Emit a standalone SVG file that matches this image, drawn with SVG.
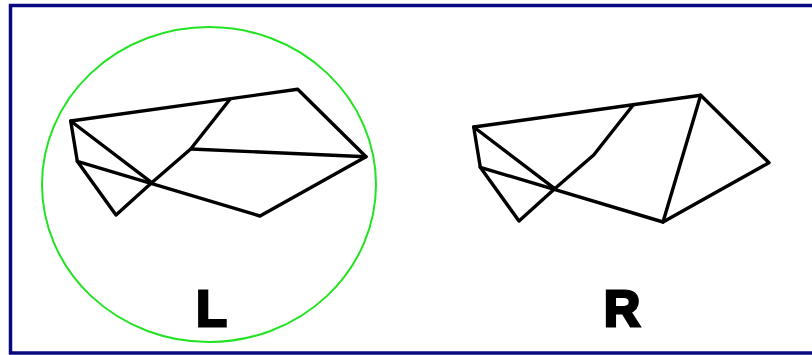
<svg xmlns="http://www.w3.org/2000/svg" width="812" height="355" viewBox="0 0 812 355">
<style>
.frame{fill:none;stroke:#0a0a80;stroke-width:3.5}
.ring{fill:none;stroke:#22e322;stroke-width:2}
.edge{fill:none;stroke:#000;stroke-width:3.4;stroke-linejoin:round;stroke-linecap:round}
.lbl{font-family:"Liberation Sans",Arial,sans-serif;font-weight:900;font-size:50px;fill:#000;stroke:#000;stroke-width:3;stroke-linejoin:miter;text-anchor:middle}
</style>
<rect width="812" height="355" fill="#fff"/>
<rect class="frame" x="10.5" y="5.5" width="820" height="347.5"/>
<g id="left-figure">
<ellipse class="ring" cx="209" cy="184.5" rx="167" ry="157.5"/>
<g id="left-edges">
<path class="edge" d="M70.7,121 L297.7,89.3 L366,156.7 L260,216 L77.3,161.3 Z"/>
<path class="edge" d="M77.3,161.3 L116,215 L151.7,182.7 L190.7,149 L230,99.3"/>
<path class="edge" d="M70.7,121 L151.7,182.7"/>
<path class="edge" d="M190.7,149 L366,156.7"/>
</g>
<text id="label-L" class="lbl" x="211.5" y="326">L</text>
</g>
<g id="right-figure">
<g id="right-edges" transform="translate(403,6)">
<path class="edge" d="M70.7,121 L297.7,89.3 L366,156.7 L260,216 L77.3,161.3 Z"/>
<path class="edge" d="M77.3,161.3 L116,215 L151.7,182.7 L190.7,149 L230,99.3"/>
<path class="edge" d="M70.7,121 L151.7,182.7"/>
<path class="edge" d="M260,216 L297.7,89.3"/>
</g>
<text id="label-R" class="lbl" x="622" y="326">R</text>
</g>
</svg>
